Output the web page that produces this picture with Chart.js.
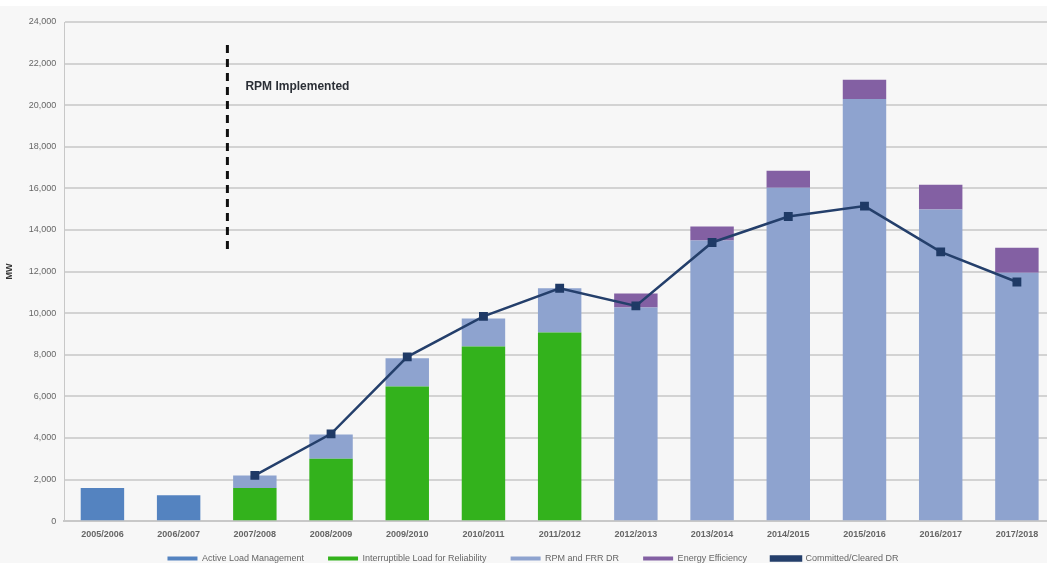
<!DOCTYPE html>
<html>
<head>
<meta charset="utf-8">
<script src="https://cdn.jsdelivr.net/npm/chart.js@4/dist/chart.umd.min.js"></script>
<style>
  html, body { margin: 0; padding: 0; background: #ffffff; overflow: hidden; height: 563px; }
  #wrap { position: absolute; left: 0; top: 6px; width: 1062px; height: 600px; background: #f7f7f7; }
</style>
</head>
<body>
<div id="wrap"><canvas id="drChart" width="1062" height="600"></canvas></div>
<script>
// delivery years
var years = ["2005/2006", "2006/2007", "2007/2008", "2008/2009", "2009/2010", "2010/2011", "2011/2012",
             "2012/2013", "2013/2014", "2014/2015", "2015/2016", "2016/2017", "2017/2018"];

// MW values
var activeLoad    = [1600, 1250, null, null, null, null, null, null, null, null, null, null, null];
var interruptible = [null, null, 1600, 3000, 6480, 8400, 9070, null, null, null, null, null, null];
var rpmFrr        = [null, null, 600, 1170, 1350, 1350, 2130, 10270, 13490, 16030, 20300, 14980, 11950];
var energyEff     = [null, null, null, null, null, null, null, 680, 680, 820, 920, 1200, 1200];
var committed     = [null, null, 2200, 4200, 7900, 9850, 11200, 10350, 13400, 14650, 15150, 12950, 11500];

var yTicks = [0, 2000, 4000, 6000, 8000, 10000, 12000, 14000, 16000, 18000, 20000, 22000, 24000];

// dashed "RPM Implemented" marker
var rpmMarker = {
    id: 'rpmMarker',
    afterLayout: function (chart) {
        // pull the legend row a little closer to the axis labels
        chart.legend.top -= 10;
        chart.legend.bottom -= 10;
    },
    afterDatasetsDraw: function (chart) {
        var ctx = chart.ctx;
        var x = chart.scales.x;
        var y = chart.scales.y;
        var p1 = x.getPixelForValue(1);
        var p2 = x.getPixelForValue(2);
        var xp = p1 + 0.64 * (p2 - p1);
        ctx.save();
        ctx.strokeStyle = '#111111';
        ctx.lineWidth = 3;
        ctx.setLineDash([8, 6]);
        ctx.beginPath();
        ctx.moveTo(xp, y.getPixelForValue(22900));
        ctx.lineTo(xp, y.getPixelForValue(12950));
        ctx.stroke();
        ctx.setLineDash([]);
        ctx.fillStyle = '#2b2f36';
        ctx.font = "bold 12px 'Liberation Sans', Arial, sans-serif";
        ctx.textBaseline = 'middle';
        ctx.fillText('RPM Implemented', xp + 18, y.getPixelForValue(20900));
        ctx.restore();
    }
};

Chart.defaults.font.family = "'Liberation Sans', Arial, sans-serif";
Chart.defaults.color = '#666666';

new Chart(document.getElementById('drChart'), {
    type: 'bar',
    data: {
        labels: years,
        datasets: [
            { label: 'Active Load Management', data: activeLoad, backgroundColor: '#5483c0', stack: 'mw', order: 1 },
            { label: 'Interruptible Load for Reliability', data: interruptible, backgroundColor: '#33b21c', stack: 'mw', order: 1 },
            { label: 'RPM and FRR DR', data: rpmFrr, backgroundColor: '#8ea3cf', stack: 'mw', order: 1 },
            { label: 'Energy Efficiency', data: energyEff, backgroundColor: '#8360a3', stack: 'mw', order: 1 },
            { type: 'line', label: 'Committed/Cleared DR', data: committed, stack: 'line',
              borderColor: '#243f6b', backgroundColor: '#243f6b', borderWidth: 2.5,
              pointStyle: 'rect', pointRadius: 4.5, pointBackgroundColor: '#1f3a66',
              pointBorderColor: '#1f3a66', tension: 0, order: 0 }
        ]
    },
    options: {
        responsive: false,
        animation: false,
        layout: { padding: { left: 4, right: 0, top: 16, bottom: 23 } },
        datasets: { bar: { categoryPercentage: 1.0, barPercentage: 0.57 } },
        scales: {
            x: {
                stacked: true,
                grid: { display: false },
                border: { color: '#c8c8c8', width: 2 },
                ticks: { color: '#666666', font: { size: 9, weight: 'bold' }, padding: 0 }
            },
            y: {
                stacked: true,
                min: 0,
                max: 24000,
                afterBuildTicks: function (axis) {
                    axis.ticks = yTicks.map(function (v) { return { value: v }; });
                },
                grid: { color: '#d3d3d3', lineWidth: 2, drawTicks: false },
                border: { display: true, color: '#c8c8c8', width: 1 },
                ticks: {
                    color: '#666666', font: { size: 9 }, padding: 8,
                    callback: function (v) { return v.toLocaleString('en-US'); }
                },
                title: { display: true, text: 'MW', color: '#333333', font: { size: 9, weight: 'bold' }, padding: { top: 0, bottom: 6 } }
            }
        },
        plugins: {
            legend: {
                position: 'bottom',
                labels: {
                    boxWidth: 30, boxHeight: 4, padding: 24,
                    color: '#666666', font: { size: 9 },
                    sort: function (a, b) { return a.datasetIndex - b.datasetIndex; }
                }
            },
            tooltip: { enabled: false }
        }
    },
    plugins: [rpmMarker]
});
</script>
</body>
</html>
